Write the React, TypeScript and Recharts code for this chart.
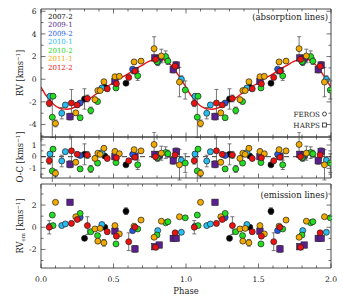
import { ComposedChart, Scatter, Line, XAxis, YAxis, ErrorBar, ReferenceLine } from 'recharts'

const FONT = '"DejaVu Serif", serif'

// one row per spectrum: [phase, RV, RV err, O-C, RV_em, RV_em err, HARPS?]
const obs2007_2 = [
  [0.300, -1.74, 0.9, 0.20, -1.00, 0.15, 0],
  [0.440, -0.70, 0.15, 0.05, 0.00, 0.15, 0],
  [0.586, -0.35, 0.15, -0.70, 1.45, 0.3, 0],
]
const obs2009_1 = [
  [0.200, -3.30, 0.3, -0.65, 2.25, 0.2, 1],
  [0.510, -0.20, 0.15, 0.00, -0.35, 0.15, 1],
  [0.648, 0.75, 0.15, 0.05, -1.95, 0.3, 1],
  [0.785, 1.88, 0.2, 0.20, -1.75, 0.2, 1],
  [0.815, 1.85, 0.2, 0.15, -1.60, 0.2, 1],
  [0.912, 0.85, 0.3, -0.35, -1.00, 0.15, 1],
  [0.932, 1.25, 0.3, 0.45, -1.00, 0.15, 1],
]
const obs2009_2 = [
  [0.270, -2.10, 0.15, 0.10, 0.90, 0.3, 0],
  [0.632, 0.89, 0.15, 0.20, -0.30, 0.2, 0],
]
const obs2010_1 = [
  [0.062, -1.50, 0.2, 0.23, 0.10, 0.15, 0],
  [0.143, -3.00, 0.5, -0.37, 0.15, 0.15, 0],
  [0.168, -2.27, 0.2, 0.43, 0.30, 0.15, 0],
  [0.420, -0.77, 0.15, 0.35, 0.25, 0.15, 0],
  [0.805, 1.50, 0.3, -0.10, -0.30, 0.15, 0],
  [0.968, 0.00, 0.3, -0.30, -0.45, 0.15, 0],
]
const obs2010_2 = [
  [0.078, -3.35, 1.8, -1.22, 1.10, 0.15, 0],
  [0.083, -1.50, 0.2, 0.65, 0.15, 0.15, 0],
  [0.270, -3.40, 0.2, -1.05, 1.25, 0.15, 0],
  [0.343, -2.76, 0.3, -1.05, -0.40, 0.15, 0],
  [0.390, -1.97, 0.2, -0.55, -0.75, 0.15, 0],
  [0.517, -0.77, 0.2, -0.50, -1.50, 0.15, 0],
  [0.667, 0.30, 0.4, -0.70, -0.15, 0.15, 0],
  [0.800, 1.55, 0.2, -0.10, -0.70, 0.15, 0],
  [0.860, 2.00, 0.5, 0.35, 0.40, 0.15, 0],
  [0.875, 1.60, 0.3, 0.25, 0.50, 0.15, 0],
  [0.995, -0.95, 0.8, -0.55, 0.85, 0.15, 0],
]
const obs2011_1 = [
  [0.100, -3.90, 0.3, -1.42, 2.25, 0.15, 0],
  [0.240, -2.97, 0.2, -0.48, 0.95, 0.15, 0],
  [0.372, -1.80, 0.2, -0.15, -0.15, 0.2, 0],
  [0.392, -1.00, 0.15, 0.30, -1.25, 0.15, 0],
  [0.408, -1.00, 0.15, 0.20, -0.10, 0.15, 0],
  [0.434, -0.22, 0.2, 0.72, -1.40, 0.3, 0],
  [0.510, 0.22, 0.2, 0.45, 0.15, 0.15, 0],
  [0.540, 0.25, 0.2, 0.25, -0.60, 0.15, 0],
  [0.642, 1.53, 0.2, 0.60, 0.10, 0.15, 0],
  [0.690, 1.60, 0.2, 0.50, 0.65, 0.15, 0],
  [0.780, 2.70, 1.05, 1.05, -0.90, 0.15, 0],
  [0.830, 2.05, 0.6, 0.30, 0.55, 0.15, 0],
  [0.955, -0.25, 1.3, -0.70, 0.95, 0.15, 0],
]
const obs2012_2 = [
  [0.057, -2.12, 0.3, -0.34, 0.00, 0.6, 0],
  [0.210, -2.10, 1.2, 0.50, 0.35, 0.2, 0],
  [0.250, -2.27, 0.2, 0.20, 0.70, 0.15, 0],
  [0.320, -1.70, 0.3, 0.15, 0.15, 0.8, 0],
  [0.457, -0.85, 0.2, -0.15, -0.40, 0.2, 0],
  [0.520, -0.40, 0.2, -0.10, -0.80, 0.2, 0],
  [0.605, 0.16, 0.2, -0.35, -1.30, 0.8, 0],
  [0.648, 0.72, 0.2, -0.05, 0.00, 0.2, 0],
  [0.790, 1.75, 0.2, 0.00, -1.80, 0.15, 0],
  [0.925, 1.15, 0.3, 0.15, -0.50, 0.2, 0],
]

const seasonNames = ['2007-2', '2009-1', '2009-2', '2010-1', '2010-2', '2011-1', '2012-2']
const seasonColors = ['#000000', '#5b1f8f', '#2457e6', '#28bdf0', '#22dd22', '#f0aa00', '#ee1111']
const seasonRows = [obs2007_2, obs2009_1, obs2009_2, obs2010_1, obs2010_2, obs2011_1, obs2012_2]

// orbital fit, one cycle
const fitPhase = [0, 0.03, 0.06, 0.09, 0.12, 0.15, 0.18, 0.21, 0.24, 0.27, 0.30, 0.34, 0.38, 0.42, 0.46, 0.50,
  0.54, 0.58, 0.62, 0.66, 0.70, 0.74, 0.78, 0.82, 0.86, 0.90, 0.94, 0.97]
const fitRv = [-0.7, -1.35, -1.8, -2.25, -2.5, -2.62, -2.65, -2.58, -2.42, -2.2, -1.98, -1.68, -1.3, -0.95, -0.62, -0.3,
  0.05, 0.32, 0.62, 0.95, 1.25, 1.55, 1.75, 1.82, 1.62, 1.2, 0.5, -0.1]

const phaseTicks = [0, 0.1, 0.2, 0.3, 0.4, 0.5, 0.6, 0.7, 0.8, 0.9, 1, 1.1, 1.2, 1.3, 1.4, 1.5, 1.6, 1.7, 1.8, 1.9, 2]
const rvTicks = [-5, -4, -3, -2, -1, 0, 1, 2, 3, 4, 5, 6]
const ocTicks = [-1.5, -1, -0.5, 0, 0.5, 1, 1.5]
const emTicks = [-3, -2, -1, 0, 1, 2, 3]

const fitData = [0, 1].flatMap((c) => fitPhase.map((p, i) => ({ x: p + c, y: fitRv[i] })))
  .concat([{ x: 2, y: fitRv[0] }])

const points = (rows: number[][], col: number, errCol: number) =>
  rows.flatMap((r) => [0, 1].map((c) => ({ x: r[0] + c, y: r[col], e: r[errCol], h: r[6] })))

const isMajor = (v: number, step: number) => Math.abs(v / step - Math.round(v / step)) < 1e-6
const AX = '#333'

function makeTick(side: string, step: number, labels: boolean, fmt: (v: number) => string) {
  return (props: any) => {
    const { x, y, payload } = props
    const v = payload.value
    const major = isMajor(v, step)
    const len = major ? 4.5 : 2.5
    let line = null
    let label = null
    if (side === 'bottom') {
      line = <line x1={x} x2={x} y1={y} y2={y - len} stroke={AX} strokeWidth={0.7} />
      if (labels && major) label = <text x={x} y={y + 13.5} textAnchor="middle" fontSize={7.6} fontFamily={FONT} fill="#222">{fmt(v)}</text>
    } else if (side === 'top') {
      line = <line x1={x} x2={x} y1={y} y2={y + len} stroke={AX} strokeWidth={0.7} />
    } else if (side === 'left') {
      line = <line x1={x} x2={x + len} y1={y} y2={y} stroke={AX} strokeWidth={0.7} />
      if (labels && major) label = <text x={x - 4.5} y={y} dy="0.36em" textAnchor="end" fontSize={7.6} fontFamily={FONT} fill="#222">{fmt(v)}</text>
    } else {
      line = <line x1={x} x2={x - len} y1={y} y2={y} stroke={AX} strokeWidth={0.7} />
    }
    return <g>{line}{label}</g>
  }
}

const Marker = (color: string) => (props: any) => {
  const { cx, cy, payload } = props
  if (cx == null || cy == null) return <g />
  if (payload.h) {
    return <rect x={cx - 3.2} y={cy - 3.2} width={6.4} height={6.4} fill={color} stroke="#222" strokeWidth={0.6} />
  }
  return <circle cx={cx} cy={cy} r={3} fill={color} stroke="#222" strokeWidth={0.7} />
}

interface PanelProps {
  top: number
  height: number
  padTop: number
  padBottom: number
  col: number
  errCol: number
  domain: [number, number]
  yTicks: number[]
  yStep: number
  xLabels: boolean
  fit?: boolean
  zeroLine?: boolean
}

function Panel({ top, height, padTop, padBottom, col, errCol, domain, yTicks, yStep, xLabels, fit, zeroLine }: PanelProps) {
  const fmtX = (v: number) => v.toFixed(1)
  const fmtY = (v: number) => String(v)
  return (
    <div style={{ position: 'absolute', left: 0, top }}>
      <ComposedChart width={343} height={height} margin={{ top: 0, right: 0, bottom: 0, left: 0 }}>
        <XAxis xAxisId="b" dataKey="x" type="number" domain={[0, 2]} ticks={phaseTicks} interval={0}
          allowDataOverflow height={padBottom} tickSize={0} tickMargin={0} tickLine={false}
          axisLine={{ stroke: AX, strokeWidth: 0.9 }} tick={makeTick('bottom', 0.5, xLabels, fmtX)} />
        <XAxis xAxisId="t" orientation="top" dataKey="x" type="number" domain={[0, 2]} ticks={phaseTicks} interval={0}
          allowDataOverflow height={padTop} tickSize={0} tickMargin={0} tickLine={false}
          axisLine={{ stroke: AX, strokeWidth: 0.9 }} tick={makeTick('top', 0.5, false, fmtX)} />
        <YAxis yAxisId="l" dataKey="y" type="number" domain={domain} ticks={yTicks} interval={0}
          allowDataOverflow width={41} tickSize={0} tickMargin={0} tickLine={false}
          axisLine={{ stroke: AX, strokeWidth: 0.9 }} tick={makeTick('left', yStep, true, fmtY)} />
        <YAxis yAxisId="r" orientation="right" dataKey="y" type="number" domain={domain} ticks={yTicks} interval={0}
          allowDataOverflow width={12} tickSize={0} tickMargin={0} tickLine={false}
          axisLine={{ stroke: AX, strokeWidth: 0.9 }} tick={makeTick('right', yStep, false, fmtY)} />
        {zeroLine && (
          <ReferenceLine xAxisId="b" yAxisId="l" y={0} stroke="#222" strokeWidth={0.9} strokeDasharray="5 4" />
        )}
        {fit && (
          <Line xAxisId="b" yAxisId="l" data={fitData} dataKey="y" type="monotone" stroke="#ee1111"
            strokeWidth={1.4} dot={false} isAnimationActive={false} />
        )}
        {seasonRows.map((rows, i) => (
          <Scatter key={seasonNames[i]} xAxisId="b" yAxisId="l" data={points(rows, col, errCol)}
            shape={Marker(seasonColors[i])} isAnimationActive={false}>
            <ErrorBar dataKey="e" direction="y" width={2} stroke="#555" strokeWidth={0.8} />
          </Scatter>
        ))}
      </ComposedChart>
    </div>
  )
}

function YTitle({ cy, main, sub }: { cy: number; main: string; sub?: string }) {
  return (
    <text transform={`translate(20,${cy}) rotate(-90)`} textAnchor="middle" dy="0.35em" fontSize={8.4} fill="#222">
      {main}
      {sub && <tspan fontSize={5.5} dy={1.8}>{sub}</tspan>}
      <tspan dy={sub ? -1.8 : 0}> [kms</tspan>
      <tspan fontSize={5.5} dy={-3.2}>−1</tspan>
      <tspan dy={3.2}>]</tspan>
    </text>
  )
}

export default function App() {
  return (
    <div style={{ position: 'absolute', left: 0, top: 0, width: 343, height: 297, background: '#fff', fontFamily: FONT }}>
      <Panel top={0} height={140} padTop={9} padBottom={3} col={1} errCol={2}
        domain={[-5.1, 6.2]} yTicks={rvTicks} yStep={2} xLabels={false} fit />
      <Panel top={132} height={50} padTop={5} padBottom={4} col={3} errCol={2}
        domain={[-1.83, 1.69]} yTicks={ocTicks} yStep={1} xLabels={false} zeroLine />
      <Panel top={180} height={117} padTop={4} padBottom={29} col={4} errCol={5}
        domain={[-3.67, 3.9]} yTicks={emTicks} yStep={2} xLabels />
      <svg width={343} height={297} style={{ position: 'absolute', left: 0, top: 0, pointerEvents: 'none' }} fontFamily={FONT}>
        {seasonNames.map((s, i) => (
          <text key={s} x={48} y={18.5 + i * 8.5} fontSize={7} fill={seasonColors[i]}>{s}</text>
        ))}
        <text x={328} y={20} textAnchor="end" fontSize={8.5} fill="#222">(absorption lines)</text>
        <text x={320} y={116.5} textAnchor="end" fontSize={7.2} fill="#222">FEROS</text>
        <circle cx={324.5} cy={114} r={2} fill="none" stroke="#222" strokeWidth={0.8} />
        <text x={320} y={127.5} textAnchor="end" fontSize={7.2} fill="#222">HARPS</text>
        <rect x={322.5} y={123} width={4} height={4} fill="none" stroke="#222" strokeWidth={0.8} />
        <text x={328} y={198} textAnchor="end" fontSize={8.5} fill="#222">(emission lines)</text>
        <text x={186} y={294} textAnchor="middle" fontSize={8.4} fill="#222">Phase</text>
        <YTitle cy={73} main="RV" />
        <YTitle cy={157} main="O-C" />
        <YTitle cy={226} main="RV" sub="em" />
      </svg>
    </div>
  )
}
